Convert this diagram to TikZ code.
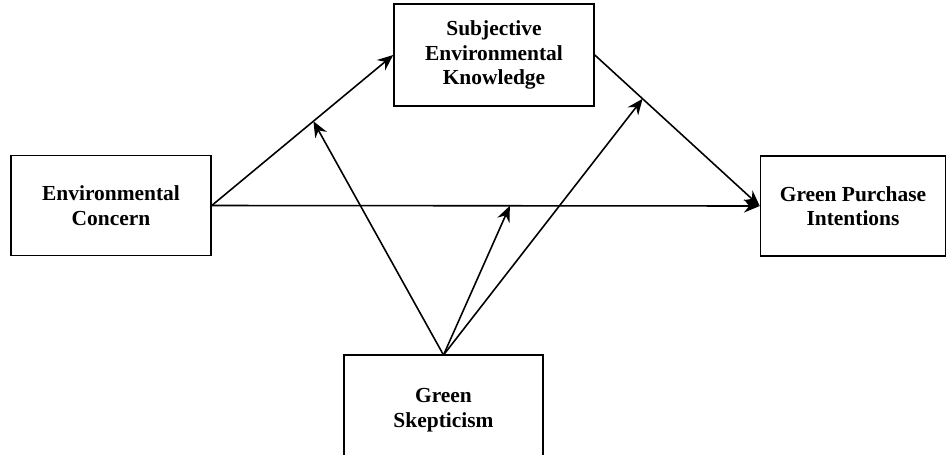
\documentclass[tikz,border=0pt]{standalone}
\usepackage{fontspec}
\setmainfont{Liberation Serif}
\usetikzlibrary{arrows.meta}
\tikzset{box/.style={draw, align=center, inner sep=2pt, font=\fontsize{12.2}{14}\selectfont\bfseries}}
\tikzset{link/.style={-{Stealth[length=9pt,width=7.5pt,inset=3pt]}}}

\begin{document}
\begin{tikzpicture}[x=0.02cm,y=-0.02cm,line width=0.9pt]
\useasboundingbox (0,0) rectangle (947,454);
\clip (0,0) rectangle (947,454);

\node[box, minimum width=4cm, minimum height=2cm] (ec) at (111,205.5) {Environmental\\Concern};
\node[box, minimum width=4cm, minimum height=2.04cm] (sek) at (494,55) {Subjective\\Environmental\\Knowledge};
\node[box, minimum width=3.7cm, minimum height=2cm] (gpi) at (853,206) {Green Purchase\\Intentions};
\node[box, minimum width=3.98cm, minimum height=2.2cm] (gs) at (443.5,410) {Green\\Skepticism};
\coordinate (gstop) at (443.5,355);

\draw[link] (ec.east) -- coordinate[pos=.56] (m1) (sek.west);
\draw[link] (sek.east) -- coordinate[pos=.29] (m2) (gpi.west);
\draw[link] (ec.east) -- coordinate[pos=.544] (m3) (gpi.west);

\draw[link] (gstop) -- (m1);
\draw[link] (gstop) -- (m2);
\draw[link] (gstop) -- (m3);
\end{tikzpicture}
\end{document}
